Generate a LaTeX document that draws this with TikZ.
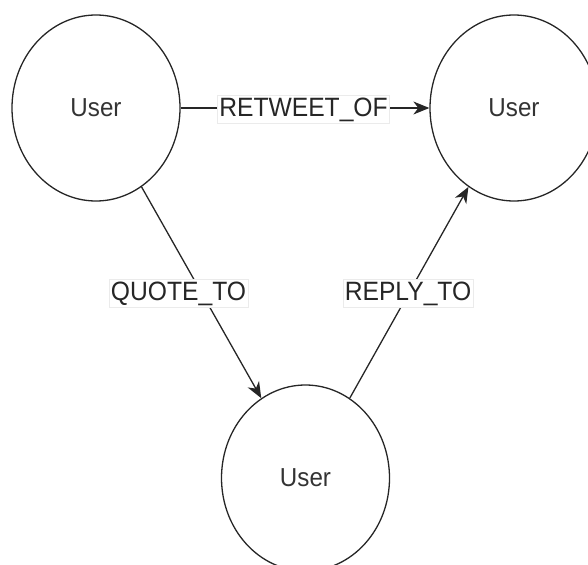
\documentclass[tikz,border=0pt]{standalone}
\usepackage{fontspec}
\setmainfont{Liberation Sans}[FakeStretch=0.93]
\usetikzlibrary{shapes.geometric,arrows.meta}
\begin{document}
\begin{tikzpicture}[x=1pt,y=-1pt,
  usernode/.style={ellipse,draw=black!85,line width=1.3pt,minimum width=168pt,minimum height=186pt,inner sep=0pt,font=\fontsize{26}{30}\selectfont,text=black!80},
  conn/.style={draw=black!85,line width=1.3pt,-{Stealth[length=16pt,width=13pt,inset=5pt]}},
  elabel/.style={fill=white,draw=black!8,line width=0.5pt,inner sep=2pt,font=\fontsize{26.5}{30}\selectfont,text=black!85}]
\clip (0,0) rectangle (588,564);
\useasboundingbox (0,0) rectangle (588,564);
\node[usernode] (a) at (96,108) {User};
\node[usernode] (b) at (514,108) {User};
\node[usernode] (c) at (305.5,478) {User};
\draw[conn] (a.east) -- (b.west);
\node[elabel] (l1) at (303.5,109.5) {RETWEET\_OF};
\draw[conn] (a.-60.3) -- (c.119);
\node[elabel] (l2) at (178.5,293.5) {QUOTE\_TO};
\draw[conn] (c.61) -- (b.-120);
\node[elabel] (l3) at (408,293.5) {REPLY\_TO};
\end{tikzpicture}
\end{document}
